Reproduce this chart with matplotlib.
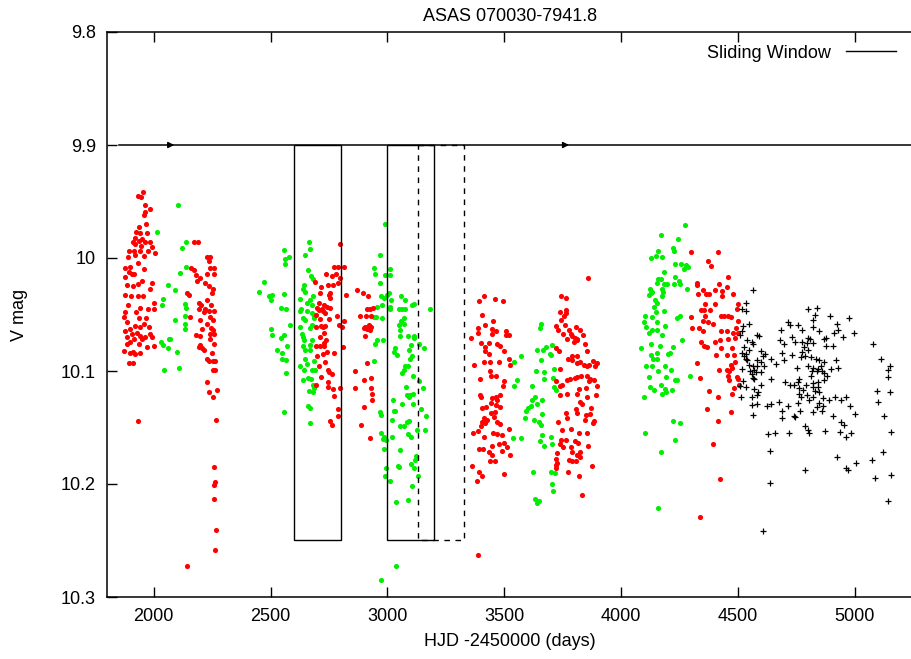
import numpy as np
import matplotlib.pyplot as plt
from matplotlib.patches import Rectangle

plt.rcParams['font.family'] = ['Liberation Sans', 'DejaVu Sans']

# ASAS photometry, HJD-2450000 vs V magnitude
red_obs = [
    (1954,9.942),(1931,9.945),(1946,9.946),(1961,9.953),(1986,9.957),(1964,9.959),(1960,9.962),(1969,9.970),
    (1936,9.973),(1926,9.977),(1971,9.978),(1940,9.978),(1921,9.982),(1950,9.983),(1936,9.985),(1911,9.986),
    (1964,9.986),(1983,9.986),(1921,9.988),(1946,9.989),(1993,9.990),(1893,9.994),(1914,9.994),(1943,9.994),
    (1976,9.994),(2007,9.996),(1921,9.997),(1889,9.999),(1957,9.998),(1931,10.004),(1879,10.009),(1900,10.008),
    (1957,10.010),(1893,10.012),(1917,10.014),(1879,10.017),(1907,10.014),(1950,10.020),(1886,10.024),(1931,10.023),
    (1993,10.022),(1911,10.025),(1986,10.027),(1879,10.033),(1903,10.034),(1931,10.034),(1954,10.034),(1889,10.042),
    (1940,10.044),(1974,10.045),(2000,10.040),(1926,10.048),(1879,10.048),(1874,10.052),(1936,10.053),(1969,10.053),
    (2000,10.045),(1886,10.057),(1957,10.058),(1921,10.060),(1943,10.061),(1979,10.061),(1897,10.063),(1879,10.065),
    (1929,10.066),(1907,10.067),(1986,10.067),(1943,10.069),(1886,10.070),(1964,10.070),(1993,10.070),(1914,10.072),
    (1950,10.072),(1900,10.074),(1936,10.076),(1971,10.079),(2003,10.078),(1886,10.076),(1874,10.082),(1911,10.083),
    (1897,10.084),(1943,10.084),(1921,10.085),(1893,10.093),(1911,10.093),(1931,10.144),
    (2171,9.986),(2189,9.986),(2226,9.999),(2236,10.003),(2243,9.999),(2260,10.009),(2243,10.009),(2174,10.011),
    (2160,10.009),(2183,10.015),(2229,10.014),(2257,10.014),(2197,10.018),(2186,10.020),(2221,10.022),(2236,10.025),
    (2254,10.027),(2143,10.031),(2150,10.033),(2250,10.031),(2229,10.037),(2193,10.040),(2203,10.042),(2246,10.042),
    (2221,10.045),(2236,10.047),(2257,10.047),(2193,10.045),(2154,10.052),(2214,10.048),(2243,10.052),(2200,10.055),
    (2254,10.055),(2229,10.058),(2246,10.062),(2207,10.063),(2254,10.064),(2240,10.067),(2260,10.067),(2183,10.068),
    (2200,10.069),(2243,10.072),(2257,10.076),(2197,10.077),(2214,10.081),(2207,10.080),(2250,10.084),(2226,10.089),
    (2236,10.091),(2254,10.091),(2264,10.091),(2254,10.099),(2264,10.099),(2226,10.110),(2236,10.119),(2269,10.117),
    (2254,10.123),(2266,10.143),(2257,10.185),(2264,10.198),(2257,10.201),(2260,10.213),(2266,10.241),(2264,10.258),
    (2143,10.273),(2193,10.079),
    (2799,9.988),(2770,10.008),(2787,10.008),(2813,10.008),(2739,10.014),(2763,10.016),(2780,10.014),(2796,10.018),
    (2692,10.021),(2767,10.024),(2744,10.024),(2787,10.022),(2716,10.026),(2756,10.031),(2713,10.031),(2822,10.033),
    (2749,10.033),(2756,10.035),(2706,10.040),(2727,10.042),(2742,10.043),(2756,10.044),(2699,10.044),(2720,10.045),
    (2706,10.046),(2724,10.047),(2734,10.049),(2696,10.050),(2713,10.054),(2749,10.054),(2784,10.051),(2816,10.056),
    (2716,10.060),(2696,10.061),(2734,10.060),(2724,10.061),(2792,10.059),(2806,10.061),(2730,10.066),(2710,10.070),
    (2739,10.073),(2730,10.075),(2696,10.078),(2713,10.078),(2727,10.078),(2810,10.079),(2742,10.083),(2770,10.084),
    (2724,10.085),(2699,10.087),(2734,10.092),(2706,10.096),(2744,10.099),(2749,10.101),(2763,10.103),(2716,10.105),
    (2744,10.110),(2696,10.112),(2796,10.115),(2766,10.116),(2746,10.114),(2773,10.122),(2787,10.134),(2787,10.140),
    (2756,10.144),(2763,10.148),
    (2870,10.028),(2896,10.031),(2916,10.034),(2927,10.045),(2913,10.045),(2939,10.044),(2882,10.051),(2910,10.051),
    (2930,10.051),(2906,10.061),(2920,10.059),(2930,10.061),(2899,10.062),(2913,10.063),(2924,10.064),(2906,10.069),
    (2913,10.093),(2863,10.100),(2899,10.108),(2930,10.106),(2863,10.115),(2930,10.115),(2934,10.120),(2934,10.126),
    (2899,10.132),(2887,10.148),(2924,10.159),
    (3413,10.034),(3394,10.038),(3459,10.036),(3493,10.038),(3407,10.050),(3453,10.056),(3417,10.059),(3387,10.062),
    (3449,10.063),(3463,10.065),(3387,10.066),(3510,10.065),(3506,10.068),(3520,10.068),(3449,10.067),(3360,10.071),
    (3399,10.075),(3434,10.075),(3420,10.079),(3470,10.076),(3481,10.078),(3420,10.082),(3499,10.082),(3434,10.085),
    (3413,10.092),(3439,10.092),(3477,10.092),(3520,10.089),(3527,10.095),(3373,10.095),(3439,10.100),(3444,10.104),
    (3467,10.104),(3501,10.109),(3396,10.107),(3496,10.113),(3396,10.121),(3401,10.123),(3449,10.124),(3463,10.123),
    (3484,10.121),(3470,10.126),(3442,10.128),(3463,10.130),(3424,10.132),(3406,10.133),(3481,10.132),(3459,10.136),
    (3442,10.137),(3413,10.142),(3456,10.141),(3427,10.143),(3406,10.145),(3470,10.145),(3420,10.146),(3484,10.147),
    (3399,10.149),(3520,10.151),(3387,10.153),(3367,10.155),(3453,10.155),(3470,10.156),(3491,10.157),(3413,10.158),
    (3501,10.164),(3477,10.165),(3449,10.166),(3392,10.169),(3410,10.169),(3513,10.167),(3491,10.171),(3434,10.172),
    (3449,10.174),(3527,10.174),(3439,10.180),(3459,10.180),(3364,10.184),(3392,10.189),(3499,10.191),(3384,10.197),
    (3406,10.193),(3387,10.263),
    (3744,10.034),(3763,10.035),(3741,10.048),(3763,10.049),(3756,10.051),(3766,10.046),(3744,10.055),(3720,10.060),
    (3759,10.059),(3777,10.064),(3730,10.064),(3806,10.061),(3784,10.067),(3752,10.067),(3792,10.069),(3824,10.064),
    (3803,10.071),(3799,10.074),(3770,10.072),(3810,10.072),(3839,10.068),(3846,10.076),(3813,10.073),(3724,10.080),
    (3734,10.082),(3856,10.082),(3774,10.089),(3792,10.090),(3810,10.087),(3789,10.087),(3824,10.092),(3813,10.093),
    (3842,10.095),(3853,10.096),(3863,10.095),(3880,10.091),(3896,10.093),(3889,10.096),(3741,10.098),(3767,10.108),
    (3780,10.107),(3802,10.106),(3813,10.105),(3827,10.104),(3856,10.104),(3724,10.109),(3863,10.109),(3749,10.112),
    (3739,10.113),(3867,10.107),(3884,10.108),(3899,10.113),(3849,10.115),(3820,10.116),(3813,10.120),(3770,10.120),
    (3741,10.121),(3856,10.123),(3824,10.127),(3834,10.129),(3891,10.121),(3873,10.133),(3806,10.134),(3867,10.138),
    (3766,10.137),(3813,10.137),(3849,10.139),(3767,10.142),(3846,10.143),(3884,10.144),(3730,10.145),(3882,10.146),
    (3784,10.151),(3749,10.152),(3820,10.155),(3853,10.155),(3744,10.161),(3763,10.161),(3802,10.162),(3816,10.164),
    (3741,10.165),(3753,10.167),(3784,10.167),(3859,10.166),(3727,10.173),(3792,10.172),(3824,10.172),(3810,10.174),
    (3720,10.178),(3727,10.181),(3777,10.179),(3789,10.180),(3806,10.180),(3824,10.176),(3720,10.183),(3720,10.186),
    (3773,10.189),(3877,10.184),(3820,10.193),(3834,10.210),(3861,10.018),
    (4301,9.995),(4417,9.995),(4373,10.003),(4387,10.007),(4459,10.017),(4327,10.022),(4327,10.024),(4420,10.023),
    (4453,10.026),(4434,10.029),(4353,10.028),(4331,10.032),(4363,10.032),(4377,10.032),(4403,10.028),(4479,10.032),
    (4434,10.034),(4360,10.041),(4403,10.041),(4499,10.041),(4341,10.046),(4356,10.046),(4381,10.046),(4496,10.045),
    (4427,10.051),(4441,10.051),(4459,10.051),(4470,10.052),(4359,10.051),(4299,10.052),(4373,10.057),(4349,10.056),
    (4396,10.058),(4499,10.056),(4491,10.062),(4306,10.062),(4334,10.062),(4430,10.065),(4453,10.065),(4481,10.066),
    (4353,10.065),(4499,10.066),(4487,10.071),(4424,10.073),(4403,10.074),(4341,10.074),(4456,10.072),(4356,10.078),
    (4367,10.079),(4427,10.080),(4477,10.080),(4407,10.086),(4453,10.086),(4484,10.086),(4487,10.092),(4327,10.093),
    (4470,10.095),(4419,10.099),(4453,10.099),(4461,10.100),(4477,10.097),(4459,10.104),(4496,10.105),(4501,10.107),
    (4463,10.108),(4339,10.106),(4506,10.112),(4484,10.115),(4477,10.120),(4377,10.118),(4416,10.123),(4470,10.136),
    (4367,10.134),(4414,10.144),(4394,10.165),(4424,10.196),(4339,10.229),
]

green_obs = [
    (2103,9.953),(2016,9.977),(2137,9.986),(2123,9.991),(2137,10.008),(2111,10.013),(2063,10.024),(2093,10.028),
    (2039,10.036),(2037,10.042),(2136,10.041),(2140,10.044),(2134,10.051),(2089,10.055),(2136,10.058),(2134,10.063),
    (2031,10.074),(2071,10.072),(2064,10.072),(2040,10.077),(2060,10.080),(2100,10.083),(2046,10.099),(2110,10.097),
    (2663,9.986),(2556,9.993),(2670,9.992),(2577,9.999),(2563,10.001),(2646,9.997),(2563,10.005),(2659,10.011),
    (2674,10.016),(2473,10.021),(2681,10.019),(2644,10.024),(2641,10.027),(2649,10.030),(2449,10.030),(2492,10.034),
    (2506,10.033),(2501,10.037),(2559,10.032),(2681,10.034),(2670,10.037),(2624,10.036),(2656,10.040),(2677,10.042),
    (2544,10.044),(2567,10.045),(2630,10.045),(2627,10.047),(2656,10.047),(2677,10.049),(2687,10.051),(2639,10.053),
    (2649,10.055),(2684,10.053),(2582,10.059),(2627,10.061),(2667,10.062),(2677,10.059),(2501,10.063),(2506,10.068),
    (2556,10.068),(2544,10.071),(2634,10.067),(2639,10.070),(2644,10.073),(2677,10.073),(2570,10.078),(2641,10.078),
    (2670,10.077),(2527,10.081),(2549,10.084),(2649,10.081),(2667,10.081),(2549,10.089),(2567,10.090),(2649,10.089),
    (2684,10.091),(2627,10.096),(2656,10.094),(2644,10.099),(2677,10.099),(2692,10.099),(2566,10.102),(2639,10.108),
    (2659,10.106),(2673,10.107),(2681,10.112),(2684,10.115),(2663,10.118),(2681,10.119),(2660,10.131),(2670,10.133),
    (2559,10.136),(2670,10.146),
    (2991,9.970),(2970,9.997),(2941,10.009),(2947,10.014),(3013,10.010),(2991,10.015),(3010,10.015),(2967,10.022),
    (2999,10.033),(2973,10.034),(2984,10.035),(3006,10.031),(3016,10.037),(3059,10.034),(3077,10.037),(2956,10.043),
    (2977,10.042),(3013,10.043),(3013,10.045),(3049,10.045),(3063,10.045),(3077,10.045),(3113,10.041),(3106,10.042),
    (3184,10.045),(2941,10.052),(2952,10.052),(2977,10.053),(3073,10.053),(3059,10.056),(3049,10.059),(3070,10.058),
    (3113,10.069),(3087,10.069),(3053,10.069),(3056,10.064),(3116,10.071),(2949,10.076),(2956,10.073),(2982,10.073),
    (3103,10.077),(3134,10.076),(3159,10.080),(3091,10.081),(3034,10.080),(3030,10.083),(3042,10.086),(3099,10.089),
    (3106,10.087),(2944,10.091),(3074,10.096),(3070,10.099),(3087,10.096),(3063,10.102),(3110,10.104),(3134,10.109),
    (3153,10.115),(3081,10.114),(3084,10.121),(3091,10.123),(3099,10.121),(3110,10.120),(3024,10.126),(3063,10.129),
    (3110,10.129),(3030,10.135),(3034,10.135),(3142,10.134),(2967,10.136),(2974,10.139),(3166,10.140),(3020,10.143),
    (3084,10.145),(3091,10.144),(3053,10.149),(3070,10.149),(3127,10.152),(3163,10.152),(3087,10.156),(3103,10.158),
    (3020,10.158),(2973,10.155),(2984,10.158),(2982,10.160),(2996,10.161),(2984,10.169),(3056,10.170),(3123,10.175),
    (3120,10.179),(3101,10.182),(3044,10.184),(3049,10.185),(3116,10.186),(2994,10.186),(2991,10.193),(3132,10.193),
    (3010,10.197),(3106,10.202),(3036,10.216),(3087,10.214),(3039,10.273),(2974,10.285),
    (3656,10.058),(3652,10.062),(3703,10.077),(3642,10.081),(3667,10.081),(3679,10.079),(3696,10.085),(3574,10.087),
    (3542,10.092),(3656,10.090),(3699,10.086),(3713,10.098),(3637,10.100),(3670,10.101),(3556,10.108),(3670,10.107),
    (3709,10.106),(3544,10.113),(3620,10.113),(3713,10.114),(3720,10.117),(3633,10.123),(3664,10.126),(3620,10.126),
    (3639,10.129),(3616,10.131),(3602,10.133),(3592,10.135),(3663,10.138),(3589,10.142),(3627,10.143),(3649,10.145),
    (3659,10.148),(3537,10.159),(3570,10.159),(3660,10.157),(3699,10.158),(3653,10.162),(3670,10.166),(3706,10.165),
    (3624,10.189),(3699,10.189),(3716,10.190),(3706,10.200),(3710,10.206),(3630,10.213),(3649,10.215),(3639,10.217),
    (4276,9.971),(4170,9.980),(4244,9.983),(4224,9.991),(4227,9.994),(4159,9.994),(4149,9.998),(4127,10.000),
    (4174,9.999),(4230,10.005),(4256,10.005),(4277,10.006),(4287,10.008),(4270,10.010),(4184,10.012),(4159,10.019),
    (4170,10.019),(4230,10.017),(4249,10.020),(4153,10.022),(4184,10.023),(4199,10.023),(4227,10.023),(4253,10.023),
    (4281,10.027),(4124,10.027),(4177,10.027),(4134,10.030),(4181,10.030),(4120,10.033),(4130,10.031),(4177,10.034),
    (4144,10.037),(4156,10.040),(4141,10.043),(4184,10.047),(4149,10.048),(4101,10.051),(4134,10.052),(4253,10.051),
    (4241,10.053),(4153,10.057),(4099,10.057),(4106,10.061),(4187,10.060),(4120,10.066),(4134,10.064),(4153,10.064),
    (4177,10.068),(4263,10.073),(4127,10.076),(4167,10.078),(4087,10.080),(4224,10.079),(4153,10.084),(4130,10.086),
    (4201,10.085),(4210,10.084),(4153,10.089),(4139,10.089),(4106,10.096),(4134,10.096),(4187,10.096),(4159,10.100),
    (4213,10.099),(4120,10.105),(4191,10.105),(4230,10.108),(4241,10.108),(4294,10.104),(4124,10.114),(4141,10.117),
    (4170,10.112),(4187,10.116),(4191,10.119),(4177,10.120),(4220,10.117),(4099,10.123),(4221,10.144),(4253,10.146),
    (4101,10.155),(4231,10.161),(4170,10.172),(4160,10.221),
]

black_obs = [
    (4567,10.028),(4534,10.040),(4516,10.045),(4534,10.047),(4549,10.058),(4524,10.060),(4520,10.065),(4510,10.068),
    (4581,10.068),(4591,10.069),(4539,10.073),(4559,10.074),(4567,10.076),(4527,10.079),(4549,10.081),(4520,10.084),
    (4534,10.085),(4527,10.087),(4599,10.082),(4616,10.085),(4606,10.087),(4534,10.089),(4541,10.090),(4581,10.090),
    (4601,10.092),(4549,10.095),(4563,10.096),(4584,10.096),(4570,10.099),(4613,10.096),(4553,10.100),(4577,10.101),
    (4599,10.101),(4559,10.103),(4516,10.098),(4563,10.106),(4570,10.107),(4524,10.109),(4510,10.113),(4534,10.114),
    (4601,10.112),(4570,10.116),(4587,10.119),(4513,10.123),(4559,10.123),(4581,10.121),(4559,10.130),(4584,10.129),
    (4567,10.139),(4644,10.089),(4663,10.094),(4624,10.131),(4641,10.129),(4644,10.107),
    (4801,10.045),(4841,10.044),(4830,10.050),(4893,10.051),(4977,10.053),(4716,10.057),(4724,10.059),(4759,10.059),
    (4820,10.055),(4777,10.064),(4684,10.064),(4824,10.061),(4849,10.065),(4924,10.058),(4930,10.064),(4910,10.066),
    (4999,10.066),(4734,10.070),(4799,10.071),(4810,10.072),(4867,10.072),(4879,10.071),(4681,10.073),(4696,10.076),
    (4744,10.074),(4777,10.074),(4796,10.075),(4824,10.075),(4949,10.070),(5077,10.076),(4877,10.078),(4906,10.078),
    (4784,10.079),(4801,10.081),(4777,10.083),(4691,10.084),(4734,10.086),(4770,10.088),(4787,10.087),(4813,10.088),
    (4834,10.089),(4849,10.090),(4920,10.090),(4699,10.090),(4867,10.092),(4753,10.097),(4801,10.096),(4824,10.097),
    (4844,10.098),(4856,10.096),(4899,10.098),(4930,10.097),(4816,10.100),(4839,10.100),(4859,10.100),(4870,10.102),
    (4881,10.104),(4813,10.104),(4763,10.107),(4756,10.110),(4701,10.110),(4724,10.112),(4741,10.112),(4791,10.112),
    (4820,10.111),(4844,10.110),(4867,10.108),(4844,10.114),(4763,10.115),(4781,10.117),(4820,10.114),(4830,10.118),
    (4849,10.119),(4796,10.121),(4820,10.123),(4763,10.120),(4770,10.123),(4863,10.124),(4891,10.126),(4916,10.123),
    (4941,10.126),(4963,10.123),(4806,10.126),(4677,10.127),(4756,10.128),(4849,10.128),(4863,10.131),(4713,10.131),
    (4841,10.132),(4981,10.131),(4691,10.135),(4767,10.135),(4820,10.136),(4859,10.135),(4691,10.142),(4741,10.140),
    (4744,10.141),(4906,10.140),(5001,10.138),(4787,10.149),(4799,10.152),(4806,10.155),(4941,10.145),(4956,10.148),
    (4963,10.158),(4939,10.154),(4984,10.155),(4873,10.153),(4720,10.155),(4659,10.155),(4630,10.156),(4639,10.171),
    (4924,10.176),(4963,10.186),(4970,10.188),(4787,10.188),(5006,10.181),(4636,10.199),(4610,10.242),
    (5113,10.089),(5153,10.096),(5144,10.099),(5141,10.105),(5096,10.118),(5153,10.119),(5101,10.127),(5127,10.140),
    (5156,10.154),(5120,10.172),(5073,10.179),(5087,10.195),(5156,10.192),(5144,10.215),
]

# sliding window boxes: (start, end) in days, magnitude range
window_solid = [(2600, 2800), (3000, 3200)]
window_dashed = [(3130, 3330)]
window_top, window_bottom = 9.9, 10.25
arrow_days = [2100, 3790]
line_start = 1850

yticks = [9.8, 9.9, 10.0, 10.1, 10.2, 10.3]
ytick_labels = ['9.8', '9.9', '10', '10.1', '10.2', '10.3']
xticks = [2000, 2500, 3000, 3500, 4000, 4500, 5000]

red = np.array(red_obs)
green = np.array(green_obs)
black = np.array(black_obs)

fig = plt.figure(figsize=(9.12, 6.59), dpi=100)
ax = fig.add_axes([107/912, 1-597/659, 806/912, 565/659])

ax.plot(green[:, 0], green[:, 1], 'o', color='#00ee00', ms=3.7, mew=0, zorder=2)
ax.plot(red[:, 0], red[:, 1], 'o', color='#ff0000', ms=3.7, mew=0, zorder=3)
ax.plot(black[:, 0], black[:, 1], '+', color='black', ms=5.0, mew=0.9, zorder=4)

# window track along the top with direction arrows
ax.plot([line_start, 5250], [window_top, window_top], color='black', lw=1.1, zorder=5)
for d in arrow_days:
    ax.annotate('', xy=(d, window_top), xytext=(d - 40, window_top),
                arrowprops=dict(arrowstyle='-|>', color='black', lw=1.0, mutation_scale=9))

for x0, x1 in window_solid:
    ax.add_patch(Rectangle((x0, window_top), x1 - x0, window_bottom - window_top,
                           fill=False, ec='black', lw=1.0, zorder=5))
for x0, x1 in window_dashed:
    ax.add_patch(Rectangle((x0, window_top), x1 - x0, window_bottom - window_top,
                           fill=False, ec='black', lw=1.0, ls=(0, (4, 4)), zorder=5))

ax.plot([], [], color='black', lw=1.0, label='Sliding Window')
ax.legend(loc='upper right', frameon=False, markerfirst=False, fontsize=13,
          handlelength=2.8, borderaxespad=0.3, bbox_to_anchor=(0.995, 1.0))

ax.set_xlim(1800, 5250)
ax.set_ylim(10.3, 9.8)
ax.set_xticks(xticks)
ax.set_yticks(yticks)
ax.set_yticklabels(ytick_labels)
ax.tick_params(direction='in', length=7, width=1, labelsize=13, top=True, right=False, pad=8)
ax.spines['right'].set_visible(False)
for s in ['left', 'bottom', 'top']:
    ax.spines[s].set_linewidth(1.1)

ax.set_xlabel('HJD -2450000 (days)', fontsize=13, labelpad=6)
ax.set_ylabel('V mag', fontsize=13, labelpad=24)
ax.set_title('ASAS 070030-7941.8', fontsize=13, pad=8)

plt.savefig('out.png', dpi=100)
